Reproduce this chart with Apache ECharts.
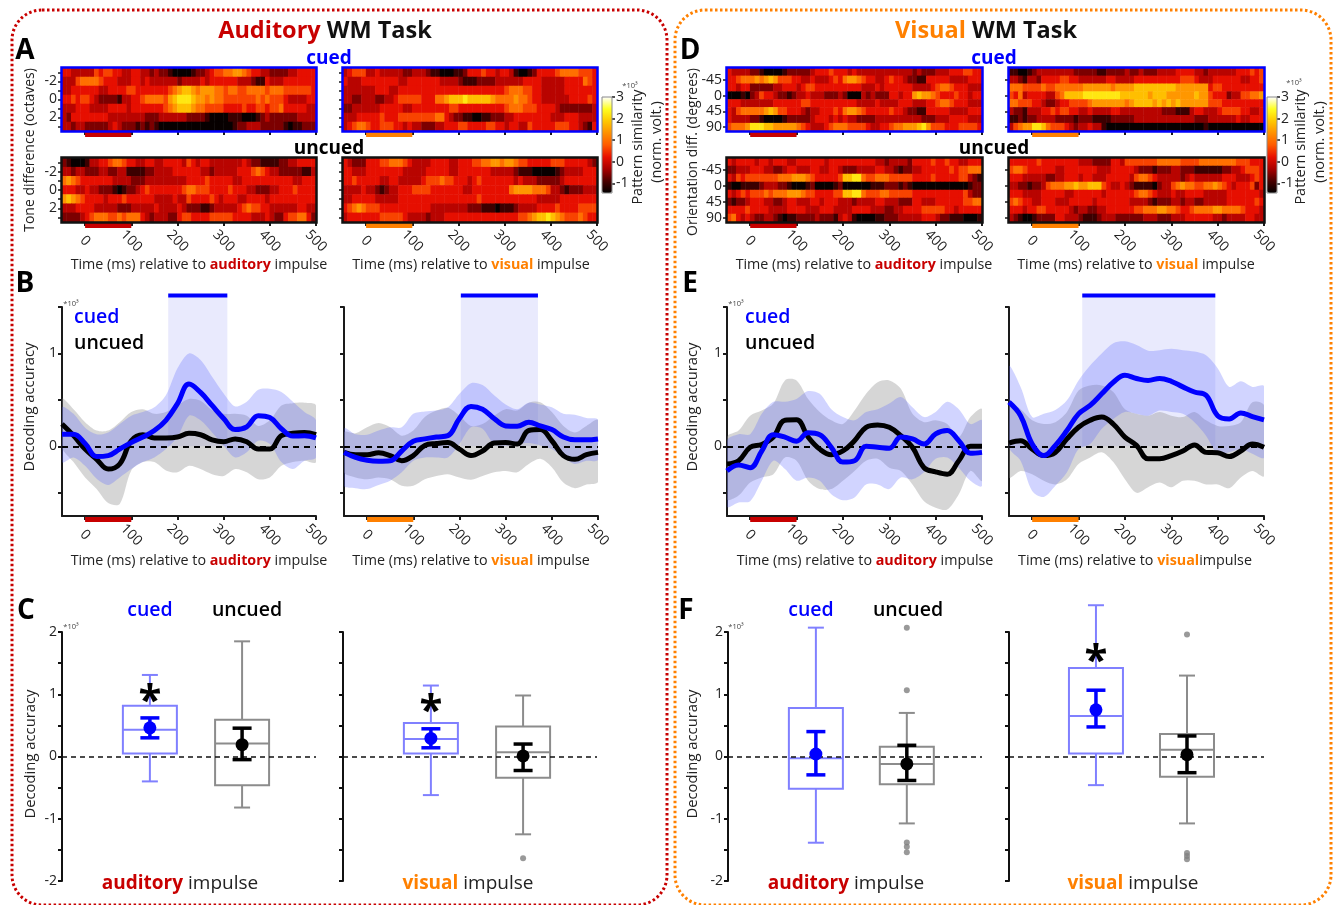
<!DOCTYPE html>
<html><head><meta charset="utf-8">
<style>html,body{margin:0;padding:0;background:#fff}#c{width:1339px;height:905px;filter:blur(0.55px)}</style>
<script src="https://cdn.jsdelivr.net/npm/echarts@6/dist/echarts.min.js"></script></head>
<body><div id="c"></div>
<script>
// ---------- DATA ----------
const heatTimes=[-50,-40,-30,-20,-10,0,10,20,30,40,50,60,70,80,90,100,110,120,130,140,150,160,170,180,190,200,210,220,230,240,250,260,270,280,290,300,310,320,330,340,350,360,370,380,390,400,410,420,430,440,450,460,470,480,490];
const toneRows=[-3,-2,-1,0,1,2,3];
const oriRows=[-67.5,-45,-22.5,0,22.5,45,67.5,90];
const timeTicks=[0,100,200,300,400,500];
// heat rows: one digit per 10 ms cell, digit d reads as similarity level (see levelOf)
const heatToneCuedAud=[
"44333 33545 54433 44332 32210 00012 23455 66776 54433 22223 34444",
"33356 66654 44333 44343 33333 23333 43444 44433 32114 33344 44444",
"33444 44433 44445 54444 44456 78876 77766 56655 66665 66655 55554",
"44545 54322 22133 44566 66578 99987 76766 55555 55656 55543 33344",
"33344 43333 44443 44444 44567 88876 65555 44445 44554 55644 44433",
"32444 44444 33333 33322 23333 33222 21000 01110 00123 22222 23333",
"33233 22222 34322 21212 10000 00000 00000 00122 33322 22210 11222"];
const heatToneUncuedAud=[
"21000 13344 56654 43344 33444 43543 44333 33334 32211 11223 34444",
"33233 22233 22331 11122 33334 44444 33233 33344 45654 33222 22113",
"67654 44444 43333 22233 33333 33444 45444 44334 44444 44444 33444",
"44433 43322 21012 23454 44444 45665 55444 45444 33222 33444 54444",
"78765 44443 44454 44444 33334 33544 44543 44433 44443 44444 44444",
"33344 44333 33222 33333 43333 43222 11233 33345 65544 33333 34433",
"22223 45666 55656 66432 33322 45544 44555 55444 43334 32245 56642"];
const heatToneCuedVis=[
"34555 33433 33322 33321 10001 12444 54434 43100 12444 45666 65554",
"43334 44444 44334 44444 43333 21112 22233 33334 44433 33344 44654",
"33333 33444 33444 44444 44444 44444 44444 56665 54433 33344 44444",
"33223 33223 34555 55444 66788 89888 88766 66766 54433 33334 44454",
"22333 33344 44433 44444 44455 44444 44444 56665 55444 43222 22223",
"33344 44454 44555 55555 66432 21100 11222 33444 44444 33344 43333",
"34566 54455 54434 33222 33444 55444 45544 34433 54444 45554 43214"];
const heatToneUncuedVis=[
"43222 44455 66654 33334 44433 44455 66776 77655 44444 55544 44432",
"44333 44444 44433 33344 44433 44444 44333 33211 10000 01233 33444",
"44544 44433 44333 33455 56554 44345 44444 44343 33222 22344 44444",
"33334 33212 33444 55554 44444 43344 44444 46777 76665 33212 22333",
"33444 44333 33444 44444 44444 44445 44444 44444 44333 33444 44444",
"45676 55544 44444 44443 33333 33222 11101 11233 33444 45444 45555",
"34444 44455 55543 33323 33444 44444 44444 44455 67889 87655 56544"];
const heatOriCuedAud=[
"43333 22100 00122 22234 44544 43433 33333 33333 23222 33344 45544",
"44566 67678 75554 43343 33454 67765 44334 54432 21144 44433 33444",
"44344 22222 33444 34554 44444 44443 33434 44444 33334 56654 44333",
"00010 23544 32212 33433 32223 20003 23222 44344 78776 54445 44344",
"44433 33333 44444 45544 44444 44433 33433 33444 33344 56654 44333",
"43566 66678 75544 43233 44454 67765 44444 54432 21144 44433 33444",
"43333 22100 00122 22234 44343 43322 22333 33333 33222 33344 44333",
"56667 99988 77777 65433 34566 65555 43344 56677 78975 55444 55554"];
const heatOriUncuedAud=[
"43444 43443 44433 44444 43444 44444 44332 33332 44445 44544 33444",
"22333 44433 22344 33344 33443 22233 33443 32122 33444 44454 55666",
"43545 55555 56667 77654 44445 88996 55666 55555 44445 44444 55321",
"10011 11233 32210 00120 00012 00000 01112 22121 00000 00000 00122",
"43454 55565 66677 76554 44455 88996 55566 55555 44444 44444 45322",
"21223 44433 22344 33344 34443 33233 33443 33222 44333 44444 45566",
"44445 44443 33344 44333 44433 33444 43332 23344 44555 55443 44444",
"56434 32233 21011 22223 22213 43100 00112 22333 33444 32211 10001"];
const heatOriCuedVis=[
"11001 23333 33332 22221 12222 32232 22333 34444 33233 33334 44545",
"33213 32444 45544 33333 34433 33444 44444 44555 43334 44444 33445",
"66655 55655 66666 67777 77677 77888 88888 87777 77745 54444 44444",
"54634 44433 56888 89999 99998 88888 78887 77777 87754 44233 55667",
"66555 44322 34455 55677 77777 67888 87878 78777 77755 54444 44444",
"32213 33445 45544 33433 33443 33333 33322 21113 44333 45555 44334",
"11212 23333 22221 22211 11222 22333 33333 33333 22233 33334 33444",
"35677 99865 55432 33433 10000 00000 00000 00000 00100 00000 00000"];
const heatOriUncuedVis=[
"44444 45444 44444 33322 22443 55555 55666 66555 56666 66665 55444",
"56654 44444 33444 44443 33444 44322 21222 33222 11111 12233 45554",
"44433 33322 33444 34433 34444 43566 54333 33234 33333 34443 33454",
"33221 22356 66778 77888 54334 32111 10233 56766 55667 65434 44524",
"44433 33444 44334 44444 34444 44566 54333 43344 44333 33444 44443",
"56544 33444 33344 44434 44444 43333 21222 33233 22333 33444 44454",
"44434 45544 44432 33223 34444 44556 66776 65445 66667 76666 54443",
"32100 12222 44333 21112 33322 22223 33222 33344 44443 32333 34433"];

const lineTimes=[-50,-25,0,25,50,75,100,125,150,175,200,225,250,275,300,325,350,375,400,425,450,475,500];

const audAudCued=[.13,.13,.03,-.11,-.10,-.03,.04,.10,.17,.28,.46,.67,.58,.44,.30,.18,.21,.33,.31,.19,.11,.115,.09];
const audAudCuedHi=[.42,.35,.20,.13,.15,.24,.33,.37,.42,.55,.84,1.0,.93,.75,.57,.43,.48,.61,.62,.585,.48,.37,.28];
const audAudCuedLo=[-.17,-.12,-.21,-.35,-.415,-.335,-.245,-.17,-.12,-.03,.10,.33,.28,.15,.01,-.12,-.065,.06,.025,-.17,-.245,-.155,-.12];
const audAudUncued=[.24,.115,-.03,-.14,-.245,-.19,.06,.125,.09,.09,.10,.14,.125,.07,.05,.08,.05,-.03,-.03,.115,.14,.15,.125];
const audAudUncuedHi=[.51,.40,.26,.17,.17,.26,.37,.40,.35,.37,.44,.51,.49,.39,.35,.35,.33,.22,.28,.44,.465,.47,.44];
const audAudUncuedLo=[-.01,-.17,-.335,-.46,-.61,-.62,-.26,-.17,-.17,-.26,-.28,-.21,-.245,-.30,-.32,-.245,-.28,-.355,-.335,-.21,-.17,-.155,-.17];

const audVisCued=[-.065,-.12,-.15,-.16,-.155,-.05,.055,.08,.10,.115,.30,.43,.40,.30,.22,.215,.26,.22,.18,.10,.07,.07,.08];
const audVisCuedHi=[.19,.13,.125,.17,.205,.205,.35,.375,.385,.42,.565,.68,.66,.55,.45,.40,.47,.45,.42,.35,.34,.305,.285];
const audVisCuedLo=[-.425,-.45,-.46,-.415,-.37,-.28,-.155,-.12,-.12,-.12,.025,.205,.19,.025,.01,.025,.035,.01,-.03,-.12,-.19,-.155,-.145];
const audVisUncued=[-.065,-.09,-.09,-.07,-.10,-.155,-.10,.01,.03,.04,-.03,-.10,-.05,.035,.04,.025,.17,.18,.06,-.10,-.14,-.09,-.065];
const audVisUncuedHi=[.15,.14,.205,.25,.205,.115,.17,.315,.385,.415,.33,.22,.24,.33,.40,.385,.47,.475,.37,.22,.15,.22,.28];
const audVisUncuedLo=[-.28,-.335,-.355,-.335,-.355,-.425,-.425,-.355,-.32,-.30,-.335,-.36,-.32,-.28,-.265,-.28,-.19,-.135,-.225,-.39,-.45,-.41,-.38];

const visAudCued=[-.265,-.20,-.23,-.05,.125,.10,.055,.145,.125,-.01,-.17,-.155,0,-.01,-.02,.10,.08,.025,.135,.17,.06,-.075,-.065];
const visAudCuedHi=[.06,.13,.13,.35,.48,.48,.51,.595,.565,.40,.315,.28,.37,.40,.46,.53,.42,.315,.37,.48,.40,.24,.28];
const visAudCuedLo=[-.65,-.605,-.59,-.37,-.155,-.245,-.37,-.335,-.37,-.515,-.58,-.55,-.41,-.41,-.46,-.335,-.355,-.28,-.135,-.12,-.23,-.37,-.425];
const visAudUncued=[-.19,-.155,-.01,.02,.10,.28,.285,.10,-.03,-.09,-.05,.06,.205,.23,.205,.115,-.01,-.23,-.275,-.30,-.155,0,0];
const visAudUncuedHi=[.10,.17,.33,.385,.46,.71,.71,.51,.37,.28,.24,.385,.565,.69,.71,.62,.35,.26,.28,.24,.10,.315,.40];
const visAudUncuedLo=[-.57,-.53,-.39,-.335,-.30,-.12,-.155,-.37,-.46,-.46,-.37,-.265,-.155,-.135,-.23,-.265,-.41,-.59,-.66,-.68,-.515,-.265,-.37];

const visVisCued=[.475,.33,.025,-.10,.01,.17,.35,.44,.565,.69,.765,.73,.71,.73,.70,.64,.585,.55,.33,.295,.36,.32,.285];
const visVisCuedHi=[.86,.64,.315,.35,.39,.495,.71,.87,1.0,1.11,1.13,1.09,1.03,1.035,1.05,1.035,1.02,.98,.84,.64,.70,.64,.645];
const visVisCuedLo=[-.01,-.155,-.48,-.545,-.425,-.28,-.03,.025,.19,.295,.37,.35,.33,.385,.37,.35,.26,.115,-.08,-.065,-.03,-.08,-.12];
const visVisUncued=[.035,.06,-.03,-.10,-.065,.08,.205,.28,.315,.24,.10,.01,-.135,-.135,-.10,-.05,.015,-.065,-.07,-.11,-.05,.025,-.01];
const visVisUncuedHi=[.46,.40,.28,.24,.26,.37,.60,.655,.655,.585,.40,.35,.33,.37,.33,.315,.37,.28,.22,.22,.26,.475,.44];
const visVisUncuedLo=[-.335,-.265,-.30,-.37,-.41,-.355,-.19,-.12,-.065,-.17,-.355,-.50,-.44,-.39,-.44,-.37,-.37,-.41,-.41,-.45,-.335,-.265,-.32];

const sigAudAud=[180,308], sigAudVis=[203,370], sigVisVis=[108,395];
const stimRange=[0,100];

// box: [low whisker, Q1, median, Q3, high whisker]; err: [low, mean, high]
const boxAudAudCued=[-.40,.05,.43,.815,1.31], errAudAudCued=[.30,.46,.62];
const boxAudAudUncued=[-.82,-.46,.21,.59,1.85], errAudAudUncued=[-.05,.19,.455];
const boxAudVisCued=[-.62,.05,.28,.54,1.14], errAudVisCued=[.14,.29,.445];
const boxAudVisUncued=[-1.25,-.34,.07,.48,.98], errAudVisUncued=[-.225,.01,.20];
const outAudVisUncued=[-1.635];
const boxVisAudCued=[-1.385,-.52,-.03,.78,2.07], errVisAudCued=[-.295,.04,.40];
const boxVisAudUncued=[-1.075,-.445,-.12,.155,.70], errVisAudUncued=[-.385,-.12,.18];
const outVisAudUncued=[2.07,1.065,-1.38,-1.45,-1.54];
const boxVisVisCued=[-.46,.05,.65,1.42,2.43], errVisVisCued=[.475,.75,1.065];
const boxVisVisUncued=[-1.075,-.325,.11,.36,1.30], errVisVisUncued=[-.26,.03,.33];
const outVisVisUncued=[1.96,-1.55,-1.6,-1.65];

// ---------- LAYOUT / STYLE ----------
const FONT='"Open Sans"', BLUE='#0000ff', RED='#c80000', ORG='#ff8000', INK='#1a1a1a';
const BOXBLUE='#8080ff', BOXGRAY='#8c8c8c';
const HEATCOL=['#000000','#4a0000','#a80000','#e81000','#ff5a00','#ff9000','#ffc800','#ffff20','#ffffff'];
const levelOf=ch=>(+ch)*0.4-1.4;
const grids=[],xAxes=[],yAxes=[],series=[],graphics=[];
const vmLeft=[],vmRight=[];

function T(x,y,text,o={}){
  graphics.push({type:'text',x,y:o.rot?y:y+1,rotation:o.rot||0,z:200,silent:true,style:Object.assign({text,fontFamily:FONT,fontSize:o.size||14,fontWeight:o.weight||'normal',fill:o.color||'#222',align:o.align||'center',verticalAlign:'middle'},o.rich?{rich:o.rich}:{})});
}
function addGrid(x,y,w,h){grids.push({left:x,top:y,width:w,height:h,containLabel:false});return grids.length-1;}
function stimSeries(g,xi,yi,color,h){
  series.push({type:'custom',xAxisIndex:xi,yAxisIndex:yi,silent:true,z:6,data:[stimRange],clip:false,
    renderItem(p,api){const a=api.coord([api.value(0),0])[0],b=api.coord([api.value(1),0])[0],c=p.coordSys;
      return {type:'rect',shape:{x:a,y:c.y+c.height+1,width:b-a,height:h},style:{fill:color}};}});
}
const xLabel={customValues:timeTicks,rotate:-45,margin:19,fontFamily:FONT,fontSize:14,color:'#222',align:'center',verticalAlign:'middle'};
function heat(x,y,w,h,rows,yCats,range,tickVals,labVals,frame,stim,showX,showYLab,vm){
  const g=addGrid(x,y,w,h);
  const xi=xAxes.length, yi=yAxes.length;
  xAxes.push({gridIndex:g,type:'category',data:heatTimes,show:false});
  yAxes.push({gridIndex:g,type:'category',data:yCats,inverse:true,show:false});
  xAxes.push({gridIndex:g,type:'value',min:-50,max:500,position:'bottom',
    axisLine:{show:false,onZero:false},splitLine:{show:false},
    axisTick:{show:true,length:4,customValues:timeTicks,lineStyle:{color:INK,width:2}},
    axisLabel:Object.assign({show:showX},xLabel)});
  yAxes.push({gridIndex:g,type:'value',min:range[0],max:range[1],inverse:true,position:'left',
    axisLine:{show:false,onZero:false},splitLine:{show:false},
    axisTick:{show:true,length:4,customValues:tickVals,lineStyle:{color:INK,width:1.5}},
    axisLabel:{show:showYLab,customValues:labVals,margin:5,fontFamily:FONT,fontSize:14,color:'#222'}});
  const data=[];
  rows.forEach((r,ri)=>{r.replace(/ /g,'').split('').forEach((ch,ci)=>data.push([ci,ri,levelOf(ch)]));});
  vm.push(series.length);
  series.push({type:'heatmap',xAxisIndex:xi,yAxisIndex:yi,silent:true,data,itemStyle:{borderWidth:0},progressive:0,emphasis:{disabled:true}});
  stimSeries(g,xi+1,yi+1,stim,5);
  graphics.push({type:'rect',z:100,silent:true,shape:{x:x-.5,y:y-.5,width:w+1,height:h+1},style:{fill:'none',stroke:frame,lineWidth:2.5}});
}
function band(xi,yi,lo,hi,color){
  series.push({type:'custom',xAxisIndex:xi,yAxisIndex:yi,silent:true,z:3,clip:true,data:[0],
    renderItem(p,api){
      const pts=[];
      lineTimes.forEach((t,i)=>pts.push(api.coord([t,hi[i]])));
      for(let i=lineTimes.length-1;i>=0;i--)pts.push(api.coord([lineTimes[i],lo[i]]));
      return {type:'polygon',shape:{points:pts,smooth:.3},style:{fill:color}};
    }});
}
function linePanel(x,w,d,showY,stim,sig){
  const y=307,h=209,g=addGrid(x,y,w,h);
  const xi=xAxes.length,yi=yAxes.length;
  xAxes.push({gridIndex:g,type:'value',min:-50,max:500,position:'bottom',splitLine:{show:false},
    axisLine:{show:true,onZero:false,lineStyle:{color:INK,width:2}},
    axisTick:{show:true,length:4,customValues:timeTicks,lineStyle:{color:INK,width:2}},
    axisLabel:xLabel});
  yAxes.push({gridIndex:g,type:'value',min:-.75,max:1.5,position:'left',splitLine:{show:false},
    axisLine:{show:true,onZero:false,lineStyle:{color:INK,width:2}},
    axisTick:{show:true,length:4,customValues:[-.5,0,.5,1,1.5],lineStyle:{color:INK,width:2}},
    axisLabel:{show:showY,customValues:[0,1],margin:5,fontFamily:FONT,fontSize:14,color:'#222'}});
  if(sig){
    series.push({type:'custom',xAxisIndex:xi,yAxisIndex:yi,silent:true,z:1,clip:false,data:[sig],
      renderItem(p,api){const a=api.coord([api.value(0),0]),b=api.coord([api.value(1),1.625]);
        return {type:'group',children:[
          {type:'rect',shape:{x:a[0],y:b[1],width:b[0]-a[0],height:a[1]-b[1]},style:{fill:'rgba(70,80,240,0.12)'}},
          {type:'rect',shape:{x:a[0],y:b[1]-2,width:b[0]-a[0],height:4},style:{fill:BLUE}}]};}});
  }
  band(xi,yi,d.uLo,d.uHi,'rgba(140,140,140,0.36)');
  band(xi,yi,d.cLo,d.cHi,'rgba(90,100,255,0.28)');
  const L=(v,c)=>({type:'line',xAxisIndex:xi,yAxisIndex:yi,data:lineTimes.map((t,i)=>[t,v[i]]),smooth:.4,showSymbol:false,silent:true,z:5,lineStyle:{color:c,width:5}});
  const u=L(d.u,'#000');
  u.markLine={silent:true,symbol:'none',animation:false,label:{show:false},lineStyle:{color:'#000',type:[6,5],width:2},data:[{yAxis:0}]};
  series.push(u);series.push(L(d.c,BLUE));
  stimSeries(g,xi,yi,stim,5);
}
function boxSeries(xi,yi,pos,b,color){
  series.push({type:'custom',xAxisIndex:xi,yAxisIndex:yi,silent:true,z:3,clip:false,data:[[pos,...b]],
    renderItem(p,api){
      const X=api.coord([api.value(0),0])[0],Y=i=>api.coord([0,api.value(i)])[1];
      const st={stroke:color,lineWidth:2,fill:'none'},hw=27,cw=8;
      const ln=(x1,y1,x2,y2)=>({type:'line',shape:{x1,y1,x2,y2},style:st});
      return {type:'group',children:[
        ln(X,Y(1),X,Y(2)),ln(X,Y(4),X,Y(5)),ln(X-cw,Y(1),X+cw,Y(1)),ln(X-cw,Y(5),X+cw,Y(5)),
        {type:'rect',shape:{x:X-hw,y:Y(4),width:2*hw,height:Y(2)-Y(4)},style:st},
        ln(X-hw,Y(3),X+hw,Y(3))]};}});
}
function errSeries(xi,yi,pos,e,color){
  series.push({type:'custom',xAxisIndex:xi,yAxisIndex:yi,silent:true,z:6,clip:false,data:[[pos,...e]],
    renderItem(p,api){
      const X=api.coord([api.value(0),0])[0],Y=i=>api.coord([0,api.value(i)])[1];
      const st={stroke:color,lineWidth:3.5,fill:'none'},cw=9.5;
      const ln=(x1,y1,x2,y2)=>({type:'line',shape:{x1,y1,x2,y2},style:st});
      return {type:'group',children:[ln(X,Y(1),X,Y(3)),ln(X-cw,Y(1),X+cw,Y(1)),ln(X-cw,Y(3),X+cw,Y(3)),
        {type:'circle',shape:{cx:X,cy:Y(2),r:6.5},style:{fill:color}}]};}});
}
function boxPanel(x,w,d,showY,pc,pu){
  const g=addGrid(x,632,w,249),xi=xAxes.length,yi=yAxes.length;
  xAxes.push({gridIndex:g,type:'value',min:0,max:1,show:false,splitLine:{show:false}});
  yAxes.push({gridIndex:g,type:'value',min:-2,max:2,interval:.5,position:'left',splitLine:{show:false},
    axisLine:{show:true,onZero:false,lineStyle:{color:'#111',width:2}},
    axisTick:{show:true,length:4,lineStyle:{color:'#111',width:2}},
    axisLabel:{show:showY,customValues:[-2,-1,0,1,2],margin:5,fontFamily:FONT,fontSize:14,color:'#222'}});
  series.push({type:'line',xAxisIndex:xi,yAxisIndex:yi,data:[],markLine:{silent:true,symbol:'none',animation:false,label:{show:false},lineStyle:{color:'#111',type:[5,4],width:1.5},data:[{yAxis:0}]},z:2});
  boxSeries(xi,yi,pc,d.bc,BOXBLUE);boxSeries(xi,yi,pu,d.bu,BOXGRAY);
  if(d.out)series.push({type:'scatter',xAxisIndex:xi,yAxisIndex:yi,silent:true,clip:false,symbolSize:6,itemStyle:{color:'#808080'},data:d.out.map(v=>[pu,v]),z:4});
  errSeries(xi,yi,pc,d.ec,BLUE);errSeries(xi,yi,pu,d.eu,'#000');
}

// ---------- PANELS ----------
const TR=[-3.5,3.5],OR=[-78.75,101.25];
heat(62,68,254,63,heatToneCuedAud,toneRows,TR,toneRows,[-2,0,2],BLUE,RED,false,true,vmLeft);
heat(62,158,254,64,heatToneUncuedAud,toneRows,TR,toneRows,[-2,0,2],'#111',RED,true,true,vmLeft);
heat(343,68,254,63,heatToneCuedVis,toneRows,TR,toneRows,[],BLUE,ORG,false,false,vmLeft);
heat(343,158,254,64,heatToneUncuedVis,toneRows,TR,toneRows,[],'#111',ORG,true,false,vmLeft);
const oriT=[-45,0,45,90];
heat(727,68,255,63,heatOriCuedAud,oriRows,OR,oriT,oriT,BLUE,RED,false,true,vmRight);
heat(727,158,255,64,heatOriUncuedAud,oriRows,OR,oriT,oriT,'#111',RED,true,true,vmRight);
heat(1009,68,255,63,heatOriCuedVis,oriRows,OR,oriT,[],BLUE,ORG,false,false,vmRight);
heat(1009,158,255,64,heatOriUncuedVis,oriRows,OR,oriT,[],'#111',ORG,true,false,vmRight);

linePanel(62,254,{c:audAudCued,cHi:audAudCuedHi,cLo:audAudCuedLo,u:audAudUncued,uHi:audAudUncuedHi,uLo:audAudUncuedLo},true,RED,sigAudAud);
linePanel(344,254,{c:audVisCued,cHi:audVisCuedHi,cLo:audVisCuedLo,u:audVisUncued,uHi:audVisUncuedHi,uLo:audVisUncuedLo},false,ORG,sigAudVis);
linePanel(727,255,{c:visAudCued,cHi:visAudCuedHi,cLo:visAudCuedLo,u:visAudUncued,uHi:visAudUncuedHi,uLo:visAudUncuedLo},true,RED,null);
linePanel(1009,255,{c:visVisCued,cHi:visVisCuedHi,cLo:visVisCuedLo,u:visVisUncued,uHi:visVisUncuedHi,uLo:visVisUncuedLo},false,ORG,sigVisVis);

boxPanel(62,254,{bc:boxAudAudCued,ec:errAudAudCued,bu:boxAudAudUncued,eu:errAudAudUncued},true,.346,.709);
boxPanel(343,254,{bc:boxAudVisCued,ec:errAudVisCued,bu:boxAudVisUncued,eu:errAudVisUncued,out:outAudVisUncued},false,.346,.709);
boxPanel(728,254,{bc:boxVisAudCued,ec:errVisAudCued,bu:boxVisAudUncued,eu:errVisAudUncued,out:outVisAudUncued},true,.346,.704);
boxPanel(1009,255,{bc:boxVisVisCued,ec:errVisVisCued,bu:boxVisVisUncued,eu:errVisVisUncued,out:outVisVisUncued},false,.341,.698);

// colour bar axes
[602,1267].forEach(x=>{
  const g=addGrid(x,97,10,96);
  xAxes.push({gridIndex:g,type:'value',show:false,min:0,max:1});
  yAxes.push({gridIndex:g,type:'value',min:-1.45,max:3,position:'right',splitLine:{show:false},
    axisLine:{show:false,onZero:false},axisTick:{show:true,length:3,customValues:[-1,0,1,2,3],lineStyle:{color:INK,width:1.5}},
    axisLabel:{customValues:[-1,0,1,2,3],margin:4,fontFamily:FONT,fontSize:14,color:'#222'}});
  graphics.push({type:'rect',z:100,silent:true,shape:{x,y:97,width:10,height:96},style:{fill:'none',stroke:'#8a8a8a',lineWidth:1}});
});

// ---------- TEXT ----------
const tRich=(c)=>({a:{fill:c,fontFamily:FONT,fontSize:23.5,fontWeight:'bold'},b:{fill:'#111',fontFamily:FONT,fontSize:23.5,fontWeight:'bold'}});
T(325,30,'{a|Auditory}{b| WM Task}',{rich:tRich(RED),size:23.5,weight:'bold'});
T(986,30,'{a|Visual}{b| WM Task}',{rich:tRich(ORG),size:23.5,weight:'bold'});
[['A',25,50],['B',25,283],['C',26,610],['D',690,50],['E',690,283],['F',686,610]].forEach(a=>T(a[1],a[2],a[0],{size:28,weight:'bold',color:'#000'}));
[329,994].forEach(x=>{T(x,58,'cued',{size:19,weight:'bold',color:BLUE});T(x,148,'uncued',{size:19,weight:'bold',color:'#000'});});
const tl=(x,y,w,c,sep=' ')=>T(x,y,`Time (ms) relative to {r|${w}}${sep}impulse`,{size:14.3,rich:{r:{fill:c,fontFamily:FONT,fontSize:14.3,fontWeight:'bold'}}});
tl(199,264,'auditory',RED);tl(471,264,'visual',ORG);tl(864,264,'auditory',RED);tl(1136,264,'visual',ORG);
tl(199,560,'auditory',RED);tl(471,560,'visual',ORG);tl(865,560,'auditory',RED);tl(1135,560,'visual',ORG,'');
const rot=Math.PI/2;
T(30,150,'Tone difference (octaves)',{rot,size:14});
T(693,152,'Orientation diff. (degrees)',{rot,size:14});
T(30,407,'Decoding accuracy',{rot,size:14.8});T(693,407,'Decoding accuracy',{rot,size:14.8});
T(31,754,'Decoding accuracy',{rot,size:14.8});T(693,754,'Decoding accuracy',{rot,size:14.8});
T(638,147,'Pattern similarity',{rot,size:14.5});T(657,142,'(norm. volt.)',{rot,size:14.5});
T(1301,147,'Pattern similarity',{rot,size:14.5});T(1320,142,'(norm. volt.)',{rot,size:14.5});
[[630,85],[1294,82],[71,303],[736,303],[71,626],[736,626]].forEach(p=>T(p[0],p[1],'*10³',{size:7.5,color:'#444'}));
[74,745].forEach(x=>{T(x,316,'cued',{size:19.5,weight:'600',color:BLUE,align:'left'});T(x,342,'uncued',{size:19.5,weight:'600',color:'#000',align:'left'});});
[[150,247],[811,908]].forEach(p=>{T(p[0],609,'cued',{size:19.5,weight:'600',color:BLUE});T(p[1],609,'uncued',{size:19.5,weight:'600',color:'#000'});});
const im=(x,w,c)=>T(x,883,`{r|${w}} impulse`,{size:19,rich:{r:{fill:c,fontFamily:FONT,fontSize:19,fontWeight:'bold'}}});
im(180,'auditory',RED);im(468,'visual',ORG);im(846,'auditory',RED);im(1133,'visual',ORG);
[[150,695],[431,705],[1096,655]].forEach(p=>T(p[0],p[1]+6,'*',{size:42,weight:'bold',color:'#000'}));

// frames
graphics.push({type:'rect',z:0,silent:true,shape:{x:12,y:10,width:655,height:895,r:30},style:{fill:'none',stroke:'#c80000',lineWidth:3,lineDash:[2.5,2.5]}});
graphics.push({type:'rect',z:0,silent:true,shape:{x:675,y:10,width:656,height:895,r:30},style:{fill:'none',stroke:ORG,lineWidth:3,lineDash:[2.5,2.5]}});

const vmBase={type:'continuous',min:-1.45,max:3,calculable:false,hoverLink:false,text:['',''],showLabel:false,itemWidth:10,itemHeight:96,padding:0,top:97,orient:'vertical',inRange:{color:HEATCOL},borderWidth:0};
const chart=echarts.init(document.getElementById('c'),null,{renderer:'canvas',width:1339,height:905});
chart.setOption({animation:false,backgroundColor:'#fff',textStyle:{fontFamily:FONT},
  grid:grids,xAxis:xAxes,yAxis:yAxes,series,graphic:graphics,
  visualMap:[Object.assign({},vmBase,{left:602,seriesIndex:vmLeft}),Object.assign({},vmBase,{left:1267,seriesIndex:vmRight})]});
</script></body></html>
